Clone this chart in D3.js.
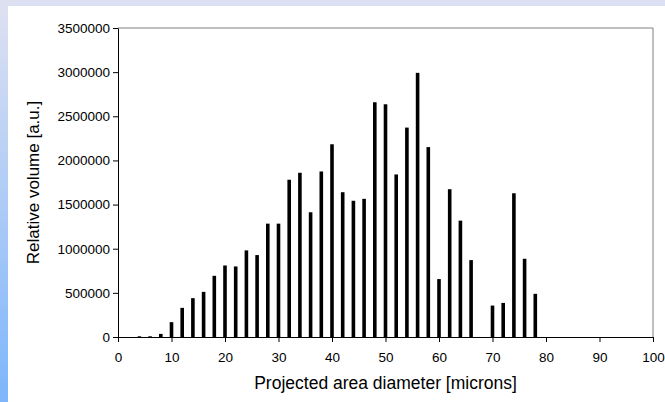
<!DOCTYPE html>
<html>
<head>
<meta charset="utf-8">
<script src="https://cdn.jsdelivr.net/npm/d3@7"></script>
<style>
  body { margin: 0; padding: 0; background: #fff; }
  svg { display: block; }
</style>
</head>
<body>
<svg id="drawing_region"></svg>
<script>
// diameter classes (microns) and relative volume
const diameters = [4, 6, 8, 10, 12, 14, 16, 18, 20, 22, 24, 26, 28, 30, 32, 34, 36, 38, 40,
                   42, 44, 46, 48, 50, 52, 54, 56, 58, 60, 62, 64, 66, 70, 72, 74, 76, 78];
const volumes = [8000, 8000, 35000, 168000, 330000, 440000, 511000, 693000, 810000, 799000,
                 981000, 928000, 1284000, 1284000, 1781000, 1860000, 1413000, 1875000, 2183000,
                 1640000, 1543000, 1565000, 2659000, 2636000, 1841000, 2372000, 2992000, 2151000,
                 656000, 1674000, 1318000, 871000, 356000, 386000, 1628000, 886000, 489000];
const xTicks = [0, 10, 20, 30, 40, 50, 60, 70, 80, 90, 100];
const yTicks = [0, 500000, 1000000, 1500000, 2000000, 2500000, 3000000, 3500000];

const data = diameters.map((d, i) => ({ diameter: d, value: volumes[i] }));

const width = 665, height = 402;
const margin = {top: 28, right: 12, bottom: 65, left: 118};
const font = 'Liberation Sans, Arial, sans-serif';

const svg = d3.select('#drawing_region')
    .attr('width', width)
    .attr('height', height);

// slide background: top band + left gradient strip
const grad = svg.append('defs').append('linearGradient')
    .attr('id', 'strip').attr('x1', 0).attr('y1', 0).attr('x2', 0).attr('y2', 1);
grad.append('stop').attr('offset', '0%').attr('stop-color', '#dfe1f1');
grad.append('stop').attr('offset', '100%').attr('stop-color', '#7db6fb');

svg.append('rect').attr('x', 0).attr('y', 0).attr('width', width).attr('height', 6)
    .attr('fill', '#dde0f2');
svg.append('rect').attr('x', 0).attr('y', 0).attr('width', 8).attr('height', height)
    .attr('fill', 'url(#strip)');

const inner_width = width - margin.left - margin.right;
const inner_height = height - margin.top - margin.bottom;

const chart = svg.append('g')
    .attr('transform', `translate(${margin.left}, ${margin.top})`);

const xscale = d3.scaleLinear().domain([0, 100]).range([0, inner_width]);
const yscale = d3.scaleLinear().domain([0, 3500000]).range([inner_height, 0]);

// frame (top and right in grey)
chart.append('path')
    .attr('d', `M0,0H${inner_width}V${inner_height}`)
    .attr('fill', 'none')
    .attr('stroke', '#808080')
    .attr('stroke-width', 1);

// bars
const barWidth = 3.6;
chart.selectAll('rect.bar').data(data)
    .join('rect')
    .attr('class', 'bar')
    .attr('x', d => xscale(d.diameter) - barWidth / 2)
    .attr('y', d => yscale(d.value))
    .attr('width', barWidth)
    .attr('height', d => inner_height - yscale(d.value))
    .attr('fill', '#000');

// axes
const xaxis = d3.axisBottom(xscale).tickValues(xTicks).tickSizeInner(5).tickSizeOuter(0).tickPadding(10);
const yaxis = d3.axisLeft(yscale).tickValues(yTicks).tickSizeInner(5).tickSizeOuter(0).tickPadding(3)
    .tickFormat(d3.format('d'));

const xg = chart.append('g')
    .attr('transform', `translate(0, ${inner_height})`)
    .call(xaxis);
const yg = chart.append('g').call(yaxis);

[xg, yg].forEach(g => {
    g.selectAll('path, line').attr('stroke', '#000');
    g.selectAll('text')
        .attr('fill', '#000')
        .style('font-family', font)
        .style('font-size', '13.5px');
});

chart.append('text')
    .attr('x', inner_width / 2)
    .attr('y', inner_height + 52)
    .attr('text-anchor', 'middle')
    .style('font-family', font)
    .style('font-size', '17.5px')
    .text('Projected area diameter [microns]');

chart.append('text')
    .attr('transform', 'rotate(-90)')
    .attr('x', -inner_height / 2 + 0)
    .attr('y', 39 - margin.left)
    .attr('text-anchor', 'middle')
    .style('font-family', font)
    .style('font-size', '17px')
    .text('Relative volume [a.u.]');
</script>
</body>
</html>
